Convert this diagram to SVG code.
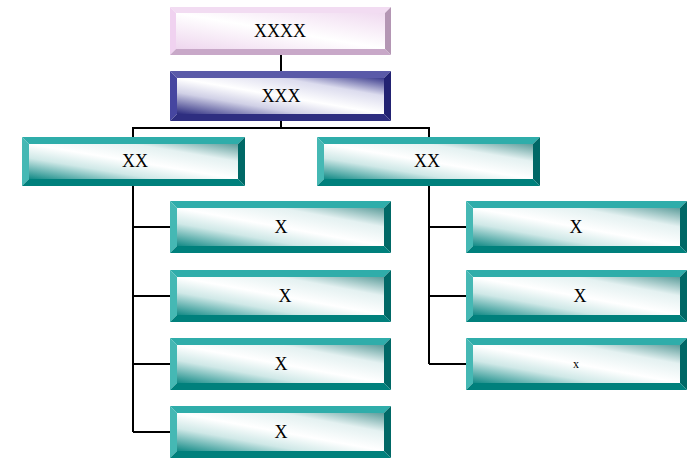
<svg xmlns="http://www.w3.org/2000/svg" xmlns:xlink="http://www.w3.org/1999/xlink" width="687" height="458" viewBox="0 0 687 458">
<style>
.t{font-family:"Liberation Serif","Times New Roman",serif;font-size:18px;fill:#000;text-anchor:middle}
.s{font-size:12px}
.c{fill:none;stroke:#000;stroke-width:2}
.tt{fill:#2fadaa}.tl{fill:#45b8b4}.tr{fill:#006866}.tb{fill:#00807c}
.pt{fill:#5a5aa8}.pl{fill:#4646a0}.pr{fill:#222272}.pb{fill:#2e2e80}
.kt{fill:#f2dcf2}.kl{fill:#f0d2f0}.kr{fill:#b496b4}.kb{fill:#c8a8c8}
</style>
<defs>
<linearGradient id="gT" x1="0" y1="1" x2="1" y2="0">
<stop offset="0" stop-color="#128a86"/>
<stop offset="0.3" stop-color="#cfe8e7"/>
<stop offset="0.5" stop-color="#ffffff"/>
<stop offset="0.75" stop-color="#e4f1f1"/>
<stop offset="1" stop-color="#5e9e9c"/>
</linearGradient>
<linearGradient id="gP" x1="0" y1="1" x2="1" y2="0">
<stop offset="0" stop-color="#2a2a7e"/>
<stop offset="0.3" stop-color="#d0d0e6"/>
<stop offset="0.5" stop-color="#ffffff"/>
<stop offset="0.75" stop-color="#dcdcee"/>
<stop offset="1" stop-color="#3a3a8c"/>
</linearGradient>
<linearGradient id="gK" x1="0" y1="1" x2="1" y2="0">
<stop offset="0" stop-color="#eed6ee"/>
<stop offset="0.5" stop-color="#ffffff"/>
<stop offset="1" stop-color="#f0daf0"/>
</linearGradient>
<g id="tealChild">
<polygon class="tt" points="0,0 221,0 214,7 7,7"/>
<polygon class="tl" points="0,0 7,7 7,45 0,52"/>
<polygon class="tr" points="221,0 221,52 214,45 214,7"/>
<polygon class="tb" points="0,52 7,45 214,45 221,52"/>
<rect x="7" y="7" width="207" height="38" fill="url(#gT)"/>
</g>
<g id="tealMid">
<polygon class="tt" points="0,0 223,0 216,7 7,7"/>
<polygon class="tl" points="0,0 7,7 7,42 0,49"/>
<polygon class="tr" points="223,0 223,49 216,42 216,7"/>
<polygon class="tb" points="0,49 7,42 216,42 223,49"/>
<rect x="7" y="7" width="209" height="35" fill="url(#gT)"/>
</g>
</defs>
<g id="connectors">
<path class="c" d="M281,55 V71"/>
<path class="c" d="M281,121 V128 M133,128 H429 M133,127 V137 M429,127 V137"/>
<path class="c" d="M133,186 V432 M133,227 H170 M133,296 H170 M133,364 H170 M133,432 H170"/>
<path class="c" d="M429,186 V364 M429,227 H466 M429,296 H466 M429,364 H466"/>
</g>
<g id="n-top">
<polygon class="kt" points="170,7 391,7 385,13 176,13"/>
<polygon class="kl" points="170,7 176,13 176,49 170,55"/>
<polygon class="kr" points="391,7 391,55 385,49 385,13"/>
<polygon class="kb" points="170,55 176,49 385,49 391,55"/>
<rect x="176" y="13" width="209" height="36" fill="url(#gK)"/>
<text class="t" x="280" y="37">XXXX</text>
</g>
<g id="n-second">
<polygon class="pt" points="170,71 391,71 384,78 177,78"/>
<polygon class="pl" points="170,71 177,78 177,114 170,121"/>
<polygon class="pr" points="391,71 391,121 384,114 384,78"/>
<polygon class="pb" points="170,121 177,114 384,114 391,121"/>
<rect x="177" y="78" width="207" height="36" fill="url(#gP)"/>
<text class="t" x="281" y="102">XXX</text>
</g>
<g id="n-left"><use xlink:href="#tealMid" x="22" y="137"/><text class="t" x="135" y="167">XX</text></g>
<g id="n-right"><use xlink:href="#tealMid" x="317" y="137"/><text class="t" x="427" y="167">XX</text></g>
<g id="n-l1"><use xlink:href="#tealChild" x="170" y="201"/><text class="t" x="281" y="233">X</text></g>
<g id="n-l2"><use xlink:href="#tealChild" x="170" y="270"/><text class="t" x="285" y="302">X</text></g>
<g id="n-l3"><use xlink:href="#tealChild" x="170" y="338"/><text class="t" x="281" y="370">X</text></g>
<g id="n-l4"><use xlink:href="#tealChild" x="170" y="406"/><text class="t" x="281" y="438">X</text></g>
<g id="n-r1"><use xlink:href="#tealChild" x="466" y="201"/><text class="t" x="576" y="233">X</text></g>
<g id="n-r2"><use xlink:href="#tealChild" x="466" y="270"/><text class="t" x="580" y="302">X</text></g>
<g id="n-r3"><use xlink:href="#tealChild" x="466" y="338"/><text class="t s" x="576" y="368">x</text></g>
</svg>
